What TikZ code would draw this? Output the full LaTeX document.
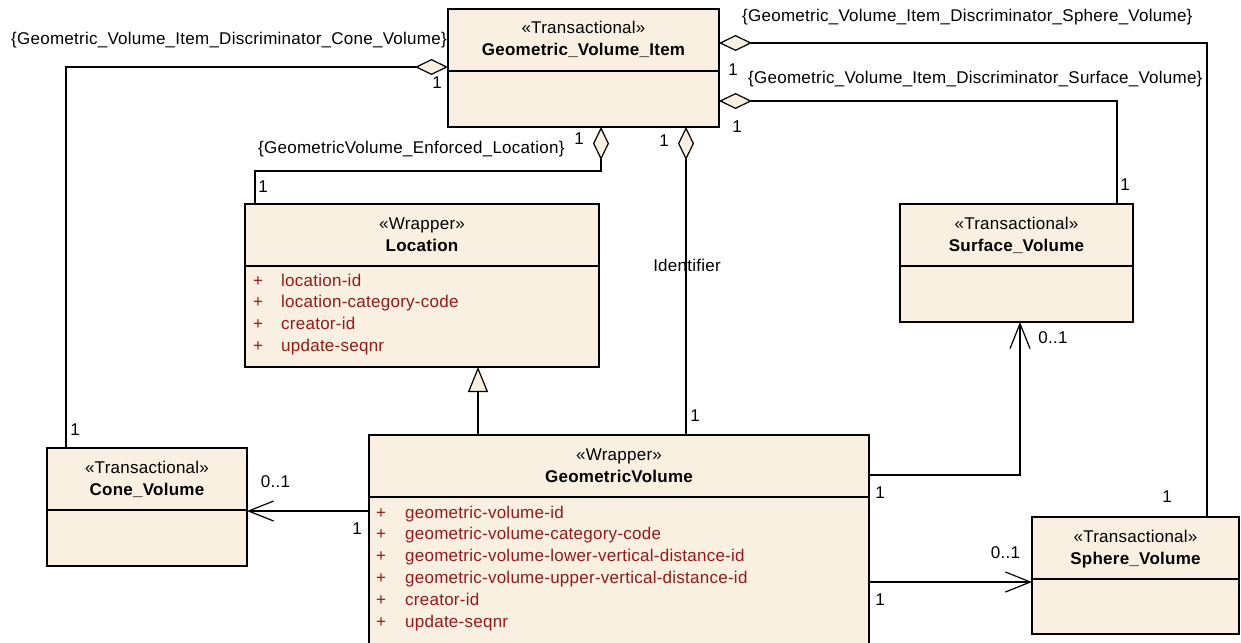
\documentclass[tikz,border=0pt]{standalone}
\usepackage{fontspec}
\setmainfont{Liberation Sans}[LetterSpace=1.5]
\usetikzlibrary{arrows.meta,calc}
\definecolor{boxfill}{RGB}{250,240,226}
\definecolor{attr}{RGB}{150,25,25}
\newcommand\umlhead[3]{%
  \node[txt] (#1-st) at ($(#1.north)+(0,-25)$) {«#2»};
  \node[txt,font=\fontsize{17}{20}\selectfont\bfseries] (#1-nm) at ($(#1.north)+(0,-47)$) {#3};
  \draw[line width=1.4pt] ($(#1.north west)+(0,-62)$) -- ($(#1.north east)+(0,-62)$);}
\begin{document}
\begin{tikzpicture}[x=1pt,y=1pt,
  font=\fontsize{17}{20}\selectfont,
  every node/.style={inner sep=0pt},
  box/.style={draw,line width=1.4pt,fill=boxfill,anchor=north west,rectangle,outer sep=0pt},
  txt/.style={anchor=base},
  lbl/.style={anchor=base west},
  attrtxt/.style={anchor=base west,text=attr},
  con/.style={line width=1.2pt},
  agg/.style={con,{Diamond[length=33pt,width=16pt,fill=boxfill]}-},
  nav/.style={con,-{Straight Barb[length=25pt,width=20pt]}},
  gen/.style={con,-{Triangle[length=25pt,width=20pt,fill=boxfill]}}]
\useasboundingbox (0,0) rectangle (1241,-642);
\clip (0,0) rectangle (1241,-642);
\fill[white] (0,0) rectangle (1241,-642);

% boxes
\node[box,minimum width=271pt,minimum height=118pt] (gvi) at (448,-9) {};
\node[box,minimum width=354pt,minimum height=163pt] (loc) at (245,-204) {};
\node[box,minimum width=200pt,minimum height=118pt] (cone) at (47,-448) {};
\node[box,minimum width=500pt,minimum height=240pt] (gv) at (369,-435) {};
\node[box,minimum width=233pt,minimum height=118pt] (surf) at (900,-204) {};
\node[box,minimum width=207pt,minimum height=117pt] (sph) at (1032,-517) {};

\umlhead{gvi}{Transactional}{Geometric\_Volume\_Item}
\umlhead{loc}{Wrapper}{Location}
\umlhead{cone}{Transactional}{Cone\_Volume}
\umlhead{gv}{Wrapper}{GeometricVolume}
\umlhead{surf}{Transactional}{Surface\_Volume}
\umlhead{sph}{Transactional}{Sphere\_Volume}

\foreach \t [count=\i from 0] in {location-id,location-category-code,creator-id,update-seqnr} {
  \node[txt,text=attr] (loc-p\i) at ($(loc.north west)+(13,-82-21.8*\i)$) {+};
  \node[attrtxt] (loc-a\i) at ($(loc.north west)+(36,-82-21.8*\i)$) {\t};
}
\foreach \t [count=\i from 0] in {geometric-volume-id,geometric-volume-category-code,geometric-volume-lower-vertical-distance-id,geometric-volume-upper-vertical-distance-id,creator-id,update-seqnr} {
  \node[txt,text=attr] (gv-p\i) at ($(gv.north west)+(12,-83-21.8*\i)$) {+};
  \node[attrtxt] (gv-a\i) at ($(gv.north west)+(36,-83-21.8*\i)$) {\t};
}

% aggregations
\draw[agg] ($(gvi.north west)+(0,-58)$) -| ($(cone.north west)+(19,0)$);
\draw[agg] ($(gvi.north east)+(0,-34)$) -| ($(sph.north west)+(175,0)$);
\draw[agg] ($(gvi.north east)+(0,-92)$) -| ($(surf.north west)+(217,0)$);
\draw[agg] ($(gvi.south west)+(153,0)$) |- ($(loc.north west)+(10,33)$) -- ($(loc.north west)+(10,0)$);
\coordinate (idtop) at ($(gvi.south west)+(238,0)$);
\draw[agg] (idtop) -- (idtop |- gv.north);

% generalization
\draw[gen] ($(gv.north west)+(109,0)$) -- ($(loc.south west)+(233,0)$);

% navigable associations
\coordinate (cn) at ($(gv.north west)+(0,-76)$);
\draw[nav] (cn) -- (cn -| cone.east);
\coordinate (sn) at ($(gv.north east)+(0,-40)$);
\draw[nav] (sn) -| ($(surf.south west)+(120,0)$);
\coordinate (spn) at ($(gv.north east)+(0,-147)$);
\draw[nav] (spn) -- (spn -| sph.west);

% labels
\node[lbl] (lcone) at (11,-45) {\{Geometric\_Volume\_Item\_Discriminator\_Cone\_Volume\}};
\node[lbl] (lsph) at (742,-22) {\{Geometric\_Volume\_Item\_Discriminator\_Sphere\_Volume\}};
\node[lbl] (lsurf) at (748,-83) {\{Geometric\_Volume\_Item\_Discriminator\_Surface\_Volume\}};
\node[lbl] (lloc) at (258,-153) {\{GeometricVolume\_Enforced\_Location\}};
\node[txt] (lid) at (687,-271) {Identifier};

% multiplicities
\node[txt] (m1) at (437,-88) {1};
\node[txt] (m2) at (733,-75) {1};
\node[txt] (m3) at (737,-132) {1};
\node[txt] (m4) at (579,-144) {1};
\node[txt] (m5) at (664,-146) {1};
\node[txt] (m6) at (263,-192) {1};
\node[txt] (m7) at (1125,-190) {1};
\node[txt] (m8) at (75,-435) {1};
\node[txt] (m9) at (695,-421) {1};
\node[txt] (m10) at (275.5,-487) {0..1};
\node[txt] (m11) at (357,-534) {1};
\node[txt] (m12) at (1053,-343) {0..1};
\node[txt] (m13) at (880,-498) {1};
\node[txt] (m14) at (1005.5,-558) {0..1};
\node[txt] (m15) at (880,-605) {1};
\node[txt] (m16) at (1167,-502) {1};
\end{tikzpicture}
\end{document}
